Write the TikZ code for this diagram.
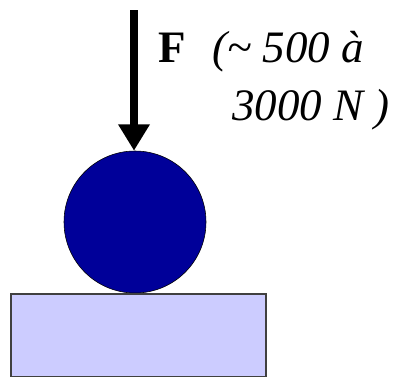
\documentclass[tikz,border=0pt]{standalone}
\usepackage{fontspec}
\setmainfont{Liberation Serif}
\usetikzlibrary{arrows.meta,positioning}
\definecolor{cball}{RGB}{0,0,153}
\definecolor{cbase}{RGB}{204,204,255}
\definecolor{cedge}{RGB}{64,64,64}

\begin{document}
\begin{tikzpicture}[
  ballcol/.style={circle,draw=black,thin,fill=cball,inner sep=0pt,minimum size=3.55cm},
  basecol/.style={rectangle,draw=cedge,line width=1.3pt,fill=cbase,inner sep=0pt,
                  minimum width=6.375cm,minimum height=2.075cm},
  force/.style={line width=0.2cm,-{Triangle[length=0.66cm,width=0.75cm]}},
  lbl/.style={inner sep=0pt,font=\fontsize{32}{38}\selectfont},
]
  \useasboundingbox (0,0) rectangle (9.95,9.4);

  % ball resting on the support
  \node[ballcol] (ball) at (3.375,3.85) {};
  \node[basecol,anchor=north] (support) at ([xshift=0.09cm]ball.south) {};

  % applied load
  \coordinate (ftop) at (3.35,9.15);
  \draw[force] (ftop) -- (ftop |- ball.north);

  % load labels
  \node[lbl,anchor=base west] (F) at (3.95,7.825) {\textbf{F}};
  \node[lbl,anchor=base west] (range1) at (5.3,7.825) {\textit{(\textasciitilde{} 500 à}};
  \node[lbl,anchor=base west] (range2) at (5.8,6.4) {\textit{3000 N )}};
\end{tikzpicture}
\end{document}
